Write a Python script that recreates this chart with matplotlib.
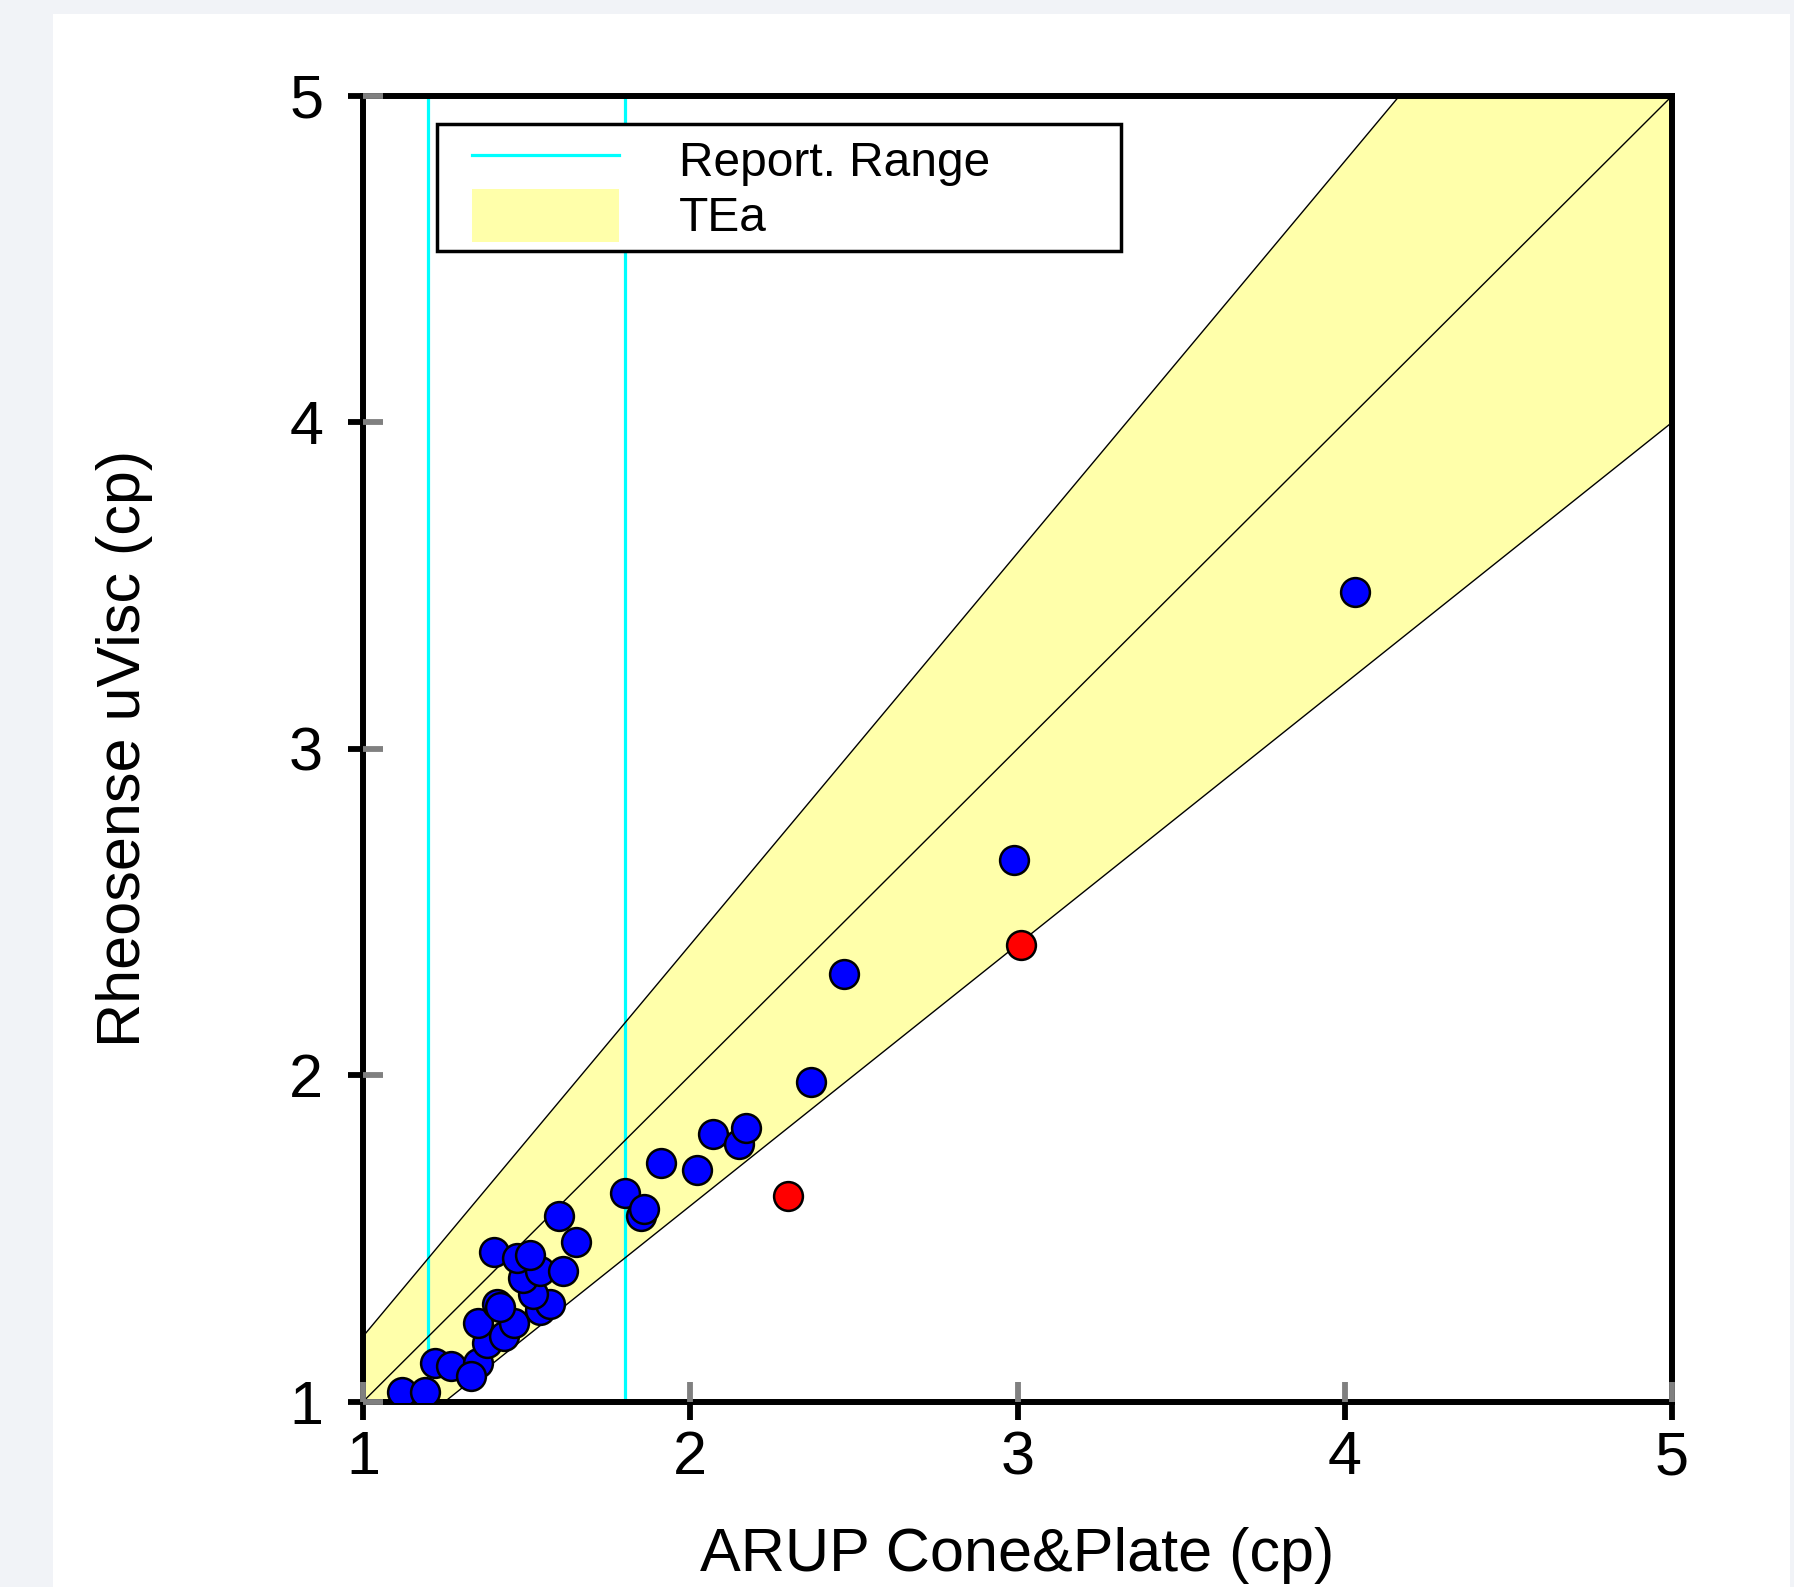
import matplotlib
matplotlib.use("Agg")
import matplotlib.pyplot as plt
from matplotlib.lines import Line2D
from matplotlib.patches import Patch, Rectangle
from matplotlib.legend_handler import HandlerLine2D, HandlerPatch
from matplotlib.ticker import MultipleLocator
import numpy as np

plt.rcParams['font.family'] = ['Liberation Sans', 'DejaVu Sans']

# ---------------- data ----------------
blue_x = [1.12, 1.19, 1.22, 1.27, 1.35, 1.33, 1.38, 1.35, 1.43, 1.46, 1.41, 1.42,
          1.54, 1.57, 1.52, 1.49, 1.54, 1.61, 1.40, 1.47, 1.51, 1.60, 1.65, 1.80,
          1.85, 1.86, 1.91, 2.02, 2.07, 2.15, 2.17, 2.37, 2.47, 2.99, 4.03]
blue_y = [1.03, 1.03, 1.12, 1.11, 1.12, 1.08, 1.18, 1.24, 1.20, 1.24, 1.30, 1.29,
          1.28, 1.30, 1.33, 1.38, 1.40, 1.40, 1.46, 1.44, 1.45, 1.57, 1.49, 1.64,
          1.57, 1.59, 1.73, 1.71, 1.82, 1.79, 1.84, 1.98, 2.31, 2.66, 3.48]
red_x = [2.30, 3.01]
red_y = [1.63, 2.40]
report_range = [1.2, 1.8]
tea = 0.20
axis_limits = [1, 5]
major_ticks = [1, 2, 3, 4, 5]
tick_labels = ['1', '2', '3', '4', '5']
x_label = 'ARUP Cone&Plate (cp)'
y_label = 'Rheosense uVisc (cp)'
legend_labels = ['Report. Range', 'TEa']

# ---------------- figure ----------------
W, H = 1794, 1587
fig = plt.figure(figsize=(W / 100, H / 100), dpi=100, facecolor='#f1f3f7')
fig.patches.append(Rectangle((53 / W, 0), (1790 - 53) / W, 1 - 14 / H,
                             transform=fig.transFigure, facecolor='white',
                             edgecolor='none', zorder=-5))

pos = [363 / W, 1 - 1401.7 / H, (1672 - 363) / W, (1401.7 - 96) / H]
ax = fig.add_axes(pos)
ax.set_xlim(*axis_limits)
ax.set_ylim(*axis_limits)

band_x = np.array(axis_limits, dtype=float)
yellow = '#ffffaa'
ax.fill_between(band_x, band_x * (1 - tea), band_x * (1 + tea), color=yellow, lw=0, zorder=1)
for f in (1 - tea, 1.0, 1 + tea):
    ax.plot(band_x, band_x * f, color='black', lw=1.0, zorder=2)
for xv in report_range:
    ax.axvline(xv, color='#00ffff', lw=2.3, zorder=1.5)

ax.scatter(blue_x, blue_y, s=430, c='#0000ff', edgecolors='black', linewidths=1.8, zorder=3)
ax.scatter(red_x, red_y, s=430, c='#ff0000', edgecolors='black', linewidths=1.8, zorder=3)

for s in ax.spines.values():
    s.set_linewidth(4.3)
    s.set_color('black')

ax.set_xticks(major_ticks, tick_labels)
ax.set_yticks(major_ticks, tick_labels)
ax.xaxis.set_minor_locator(MultipleLocator(0.25))
ax.yaxis.set_minor_locator(MultipleLocator(0.25))
ax.tick_params(axis='x', which='major', direction='out', length=13, width=4.2,
               color='black', pad=7.5, labelsize=44)
ax.tick_params(axis='y', which='major', direction='out', length=11, width=4.2,
               color='black', pad=17.6, labelsize=44)
ax.tick_params(which='minor', direction='out', length=1.8, width=1.2, color='white')

# gray inward ticks overlay
ov = fig.add_axes(pos, sharex=ax, sharey=ax)
ov.patch.set_visible(False)
for s in ov.spines.values():
    s.set_visible(False)
ov.tick_params(which='major', direction='in', length=14.4, width=4.2, color='#808080',
               labelbottom=False, labelleft=False)
ov.tick_params(which='minor', length=0)

# labels
ax.set_xlabel(x_label, fontsize=44)
ax.xaxis.set_label_coords(0.5, -0.096)
ax.set_ylabel(y_label, fontsize=44)
ax.yaxis.set_label_coords(-0.1604, 0.5)

# legend
handles = [Line2D([], [], color='#00ffff', lw=2.3),
           Patch(facecolor=yellow, edgecolor='none')]
leg = ov.legend(handles, legend_labels, loc='upper left',
                bbox_to_anchor=(0.0569, 0.88, 0.5225, 0.0982), mode='expand',
                borderaxespad=0, fontsize=34.5, frameon=True, fancybox=False,
                framealpha=1, edgecolor='black', handlelength=3.58,
                handleheight=1.31, handletextpad=1.26, borderpad=0.2,
                labelspacing=0.05, numpoints=1,
                handler_map={Line2D: HandlerLine2D(xpad=0.52),
                             Patch: HandlerPatch(xpad=0.52)})
leg.get_frame().set_linewidth(2.5)

fig.savefig('out.png', dpi=100, facecolor=fig.get_facecolor())
